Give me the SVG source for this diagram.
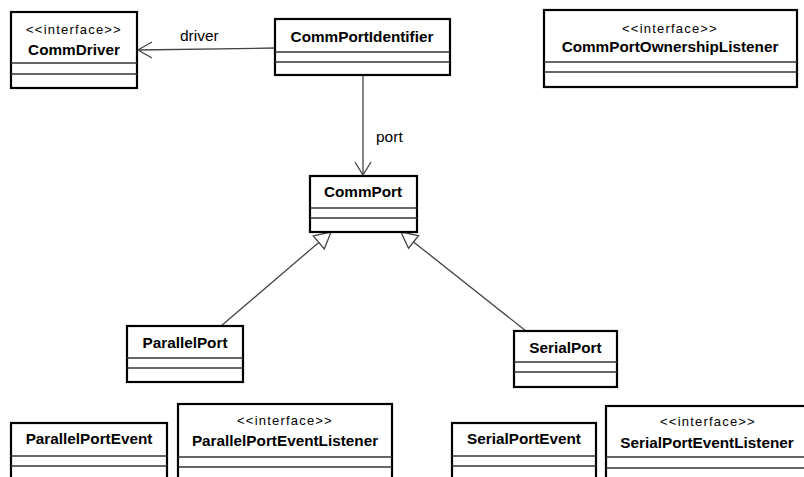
<svg xmlns="http://www.w3.org/2000/svg" width="804" height="477" viewBox="0 0 804 477">
<style>
.box{fill:#fff;stroke:#000;stroke-width:2.2}
.div{stroke:#333;stroke-width:1.3}
.name{font-family:"Liberation Sans",Arial,sans-serif;font-weight:bold;font-size:15.3px;fill:#000;text-anchor:middle}
.st{font-family:"Liberation Sans",Arial,sans-serif;font-size:13px;letter-spacing:1.2px;fill:#000;text-anchor:middle}
.lbl{font-family:"Liberation Sans",Arial,sans-serif;font-size:15.5px;fill:#000}
.edge{stroke:#444;stroke-width:1.3;fill:none}
.tri{stroke:#444;stroke-width:1.3;fill:#fff}
</style>
<rect width="804" height="477" fill="#fff"/>
<g id="connectors">
  <path class="edge" d="M276,48 L138,50"/>
  <path class="edge" d="M152,42 L138,50 L152,58"/>
  <path class="edge" d="M363,75 L363,175"/>
  <path class="edge" d="M355,162 L363,175 L371,162"/>
  <path class="edge" d="M221,326 L318.8,242.4"/>
  <polygon class="tri" points="331,232 324.3,248.9 313.3,235.9"/>
  <path class="edge" d="M526,331 L413.5,241.9"/>
  <polygon class="tri" points="401,232 418.5,235.6 408.5,248.2"/>
  <text class="lbl" x="180" y="41">driver</text>
  <text class="lbl" x="376" y="142">port</text>
</g>
<g id="CommDriver">
  <rect class="box" x="11" y="12" width="126" height="76"/>
  <line class="div" x1="11" y1="63" x2="137" y2="63"/>
  <line class="div" x1="11" y1="74" x2="137" y2="74"/>
  <text class="st" x="74" y="34">&lt;&lt;interface&gt;&gt;</text>
  <text class="name" x="74" y="55">CommDriver</text>
</g>
<g id="CommPortIdentifier">
  <rect class="box" x="275" y="19" width="175" height="56"/>
  <line class="div" x1="275" y1="52" x2="450" y2="52"/>
  <line class="div" x1="275" y1="62" x2="450" y2="62"/>
  <text class="name" x="362" y="42">CommPortIdentifier</text>
</g>
<g id="CommPortOwnershipListener">
  <rect class="box" x="544" y="10" width="253" height="77"/>
  <line class="div" x1="544" y1="62" x2="797" y2="62"/>
  <line class="div" x1="544" y1="72" x2="797" y2="72"/>
  <text class="st" x="670" y="33">&lt;&lt;interface&gt;&gt;</text>
  <text class="name" x="670" y="52">CommPortOwnershipListener</text>
</g>
<g id="CommPort">
  <rect class="box" x="310" y="176" width="107" height="56"/>
  <line class="div" x1="310" y1="208" x2="417" y2="208"/>
  <line class="div" x1="310" y1="218" x2="417" y2="218"/>
  <text class="name" x="363" y="197">CommPort</text>
</g>
<g id="ParallelPort">
  <rect class="box" x="127" y="326" width="116" height="56"/>
  <line class="div" x1="127" y1="358" x2="243" y2="358"/>
  <line class="div" x1="127" y1="368" x2="243" y2="368"/>
  <text class="name" x="185" y="348">ParallelPort</text>
</g>
<g id="SerialPort">
  <rect class="box" x="514" y="331" width="103" height="56"/>
  <line class="div" x1="514" y1="362" x2="617" y2="362"/>
  <line class="div" x1="514" y1="372" x2="617" y2="372"/>
  <text class="name" x="565.5" y="353">SerialPort</text>
</g>
<g id="ParallelPortEvent">
  <rect class="box" x="11" y="423" width="156" height="70"/>
  <line class="div" x1="11" y1="456" x2="167" y2="456"/>
  <line class="div" x1="11" y1="466" x2="167" y2="466"/>
  <text class="name" x="89" y="444">ParallelPortEvent</text>
</g>
<g id="ParallelPortEventListener">
  <rect class="box" x="178" y="404" width="214" height="90"/>
  <line class="div" x1="178" y1="457" x2="392" y2="457"/>
  <line class="div" x1="178" y1="467" x2="392" y2="467"/>
  <text class="st" x="285" y="425">&lt;&lt;interface&gt;&gt;</text>
  <text class="name" x="285" y="446">ParallelPortEventListener</text>
</g>
<g id="SerialPortEvent">
  <rect class="box" x="452" y="423" width="144" height="70"/>
  <line class="div" x1="452" y1="456" x2="596" y2="456"/>
  <line class="div" x1="452" y1="466" x2="596" y2="466"/>
  <text class="name" x="524" y="444">SerialPortEvent</text>
</g>
<g id="SerialPortEventListener">
  <rect class="box" x="606" y="406" width="204" height="90"/>
  <line class="div" x1="606" y1="457" x2="810" y2="457"/>
  <line class="div" x1="606" y1="468" x2="810" y2="468"/>
  <text class="st" x="708" y="426">&lt;&lt;interface&gt;&gt;</text>
  <text class="name" x="707" y="448">SerialPortEventListener</text>
</g>
</svg>
